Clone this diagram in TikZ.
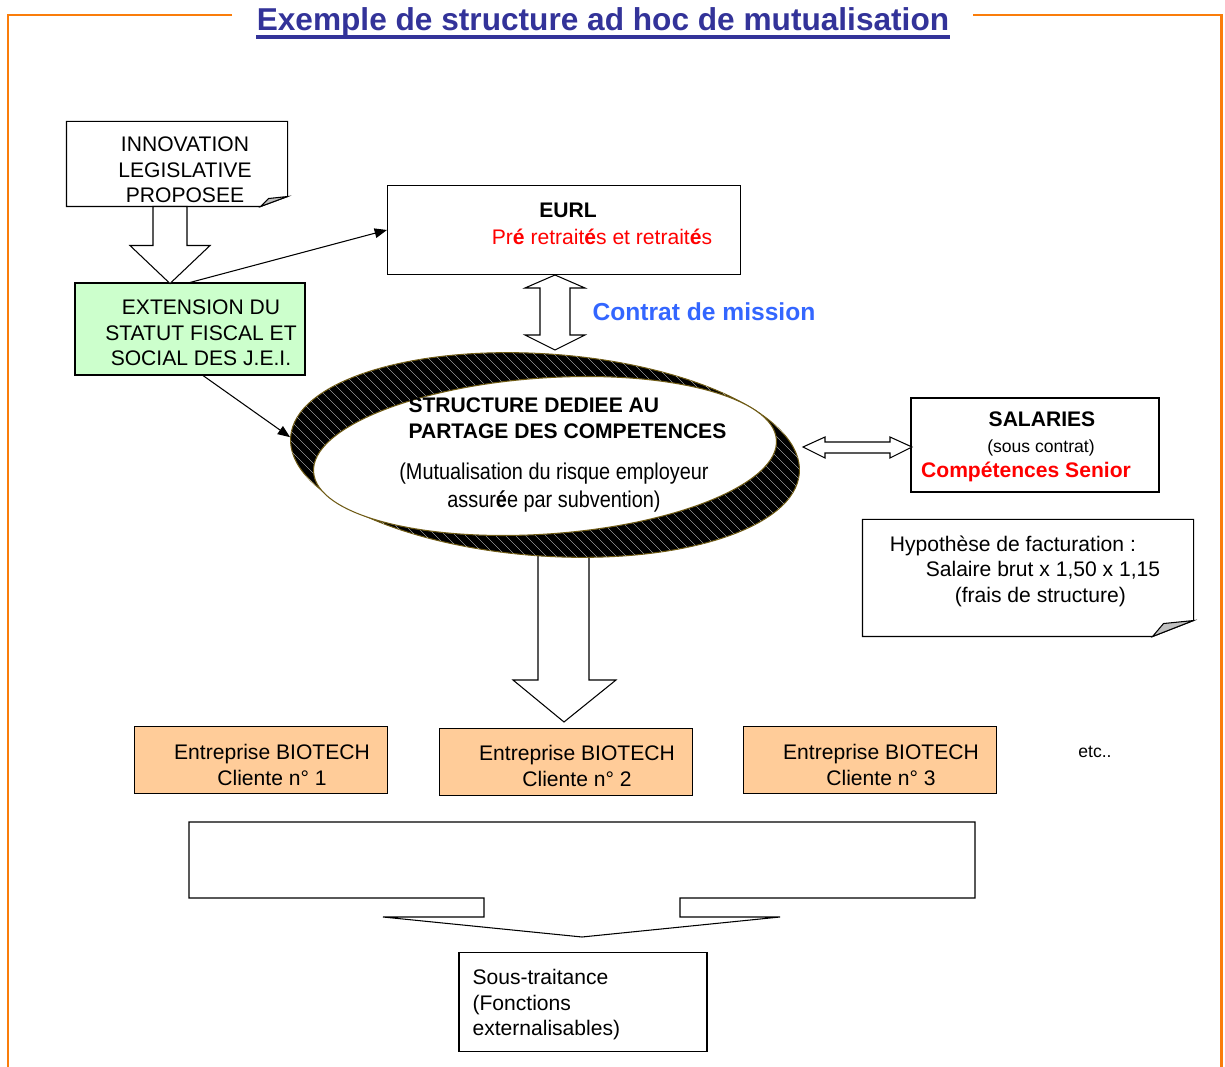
\documentclass[tikz,border=0pt]{standalone}
\usepackage{fontspec}
\setmainfont{Liberation Sans}
\newfontfamily\narrowfont[FakeStretch=0.87]{Liberation Sans}
\usetikzlibrary{shapes,arrows.meta,positioning,calc}

\definecolor{titleblue}{RGB}{51,51,153}
\definecolor{frameorange}{RGB}{250,125,10}
\definecolor{extgreen}{RGB}{204,255,204}
\definecolor{clientorange}{RGB}{255,204,153}
\definecolor{missionblue}{RGB}{51,102,255}
\definecolor{ringedge}{RGB}{110,90,20}
\definecolor{foldgrey}{RGB}{192,192,192}
\newcommand{\pxu}{0.02cm}

\begin{document}
\begin{tikzpicture}[
    x=0.02cm, y=-0.02cm,
    >={Triangle[length=7pt,width=5.5pt]},
    line width=0.6pt,
    every node/.style={font=\fontsize{12pt}{14.5pt}\selectfont, inner sep=0pt},
    plainbox/.style={rectangle, draw=black, fill=white, align=center},
    client/.style={plainbox, fill=clientorange, minimum width=253*\pxu, minimum height=67*\pxu},
    hollow/.style={draw=black, fill=white, line join=miter},
    frame/.style={draw=frameorange, line width=1.7pt, line join=miter},
    node distance=1cm
  ]
    \useasboundingbox (0,0) rectangle (1225,1067);

    % frame and title
    \draw[frame] (232,15) -- (8,15) -- (8,1067);
    \draw[frame] (973,15) -- (1221,15) -- (1221,1067);
    \node[font=\bfseries\fontsize{18pt}{21pt}\selectfont, text=titleblue, anchor=base] (title) at (603,31) {Exemple de structure ad hoc de mutualisation};
    \draw[titleblue, line width=2pt] ($(title.base west)+(0,6)$) -- ($(title.base east)+(0,6)$);

    % note: innovation
    \node[minimum width=220*\pxu, minimum height=84*\pxu] (innov) at (177,164) {};
    \draw[fill=white] (innov.north west) -- (innov.north east) -- ($(innov.south east)+(0,-10)$) -- ($(innov.south east)+(-27,0)$) -- (innov.south west) -- cycle;
    \draw[fill=foldgrey] ($(innov.south east)+(-27,0)$) -- ($(innov.south east)+(0,-10)$) -- ($(innov.south east)+(-19,-8)$) -- cycle;
    \node[align=center] (innovtxt) at (185,170) {INNOVATION\\LEGISLATIVE\\PROPOSEE};

    \node[plainbox, fill=extgreen, minimum width=230*\pxu, minimum height=92*\pxu] (ext) at (190,329) {};
    \node[align=center] (exttxt) at (201,333) {EXTENSION DU\\STATUT FISCAL ET\\SOCIAL DES J.E.I.};

    \node[plainbox, minimum width=353*\pxu, minimum height=89*\pxu] (eurl) at (564,230) {};
    \node[align=center] (eurltxt) at (568,224)
      {\textbf{EURL}\\[1pt]\hspace*{1.36cm}\textcolor{red}{Pr\textbf{é} retrait\textbf{é}s et retrait\textbf{é}s}};

    % block arrows
    \coordinate (a1) at ($(innov.south)+(-7,0)$);
    \draw[hollow] (a1) ++(-17,0) -- ++(0,39) -- ++(-23,0) -- ++(40,38) -- ++(40,-38) -- ++(-23,0) -- ++(0,-39) -- cycle;

    \coordinate (a4) at (564,722);
    \draw[hollow] (a4) -- ++(-51,-42) -- ++(25,0) -- ++(0,-150) -- ++(51,0) -- ++(0,150) -- ++(27,0) -- cycle;

    % structure ring
    \node[ellipse, minimum width=510*\pxu, minimum height=202*\pxu, rotate=-4, draw=ringedge, fill=black] (ring) at (545,455) {};
    \begin{scope}
      \clip[rotate around={-4:(545,455)}] (545,455) ellipse [x radius=255, y radius=101];
      \foreach \k in {0,...,75}
        \draw[white, line width=0.15pt] (60+10*\k,340) -- ++(235,235);
    \end{scope}
    \node[ellipse, minimum width=464*\pxu, minimum height=156*\pxu, rotate=4, draw=ringedge, fill=white] (hole) at (545,456) {};
    \node[anchor=west, align=left, font=\bfseries\fontsize{12pt}{15pt}\selectfont] (struct) at (408,418)
      {STRUCTURE DEDIEE AU\\PARTAGE DES COMPETENCES};
    \node[align=center, font=\narrowfont\fontsize{13pt}{16pt}\selectfont] (structsub) at (554,488)
      {(Mutualisation du risque employeur\\assur\textbf{é}e par subvention)};

    \coordinate (a2) at (555,275);
    \draw[hollow] (a2) -- ++(30,13) -- ++(-15,0) -- ++(0,47) -- ++(15,0) -- ++(-30,15) -- ++(-30,-15) -- ++(15,0) -- ++(0,-47) -- ++(-15,0) -- cycle;
    \node[font=\bfseries\fontsize{14pt}{16pt}\selectfont, text=missionblue] (mission) at (704,312) {Contrat de mission};

    \node[plainbox, minimum width=248*\pxu, minimum height=94*\pxu] (sal) at (1035,445) {};
    \node[align=center] (saltxt) at (1036,447)
      {\hspace*{0.24cm}\textbf{SALARIES}\\\hspace*{0.2cm}{\fontsize{10pt}{12pt}\selectfont (sous contrat)}\\\textcolor{red}{\textbf{Compétences Senior}}\hspace*{0.4cm}};

    \coordinate (a3) at (803,447);
    \draw[hollow] (a3) -- ++(22,-10) -- ++(0,5) -- ++(65,0) -- ++(0,-5) -- ++(22,10) -- ++(-22,11) -- ++(0,-5) -- ++(-65,0) -- ++(0,5) -- cycle;

    % arrows
    \draw[->] (ext.north) -- (eurl.west);
    \draw[->] ($(ext.south)+(13,0)$) -- (ring.west);

    % note: hypothese
    \node[minimum width=330*\pxu, minimum height=116*\pxu] (hypo) at (1028,578) {};
    \draw[fill=white] (hypo.north west) -- (hypo.north east) -- ($(hypo.south east)+(0,-16)$) -- ($(hypo.south east)+(-41,0)$) -- (hypo.south west) -- cycle;
    \draw[fill=foldgrey] ($(hypo.south east)+(-41,0)$) -- ($(hypo.south east)+(0,-16)$) -- ($(hypo.south east)+(-30,-13)$) -- cycle;
    \node[align=left] (hypotxt) at (1025,571)
      {Hypothèse de facturation :\\\hspace*{0.72cm}Salaire brut x 1,50 x 1,15\\\hspace*{1.3cm}(frais de structure)};

    % clients
    \node[client] (cl1) at (261,760) {};
    \node[client, right=1.02cm of cl1, yshift=-2*\pxu] (cl2) {};
    \node[client, right=1cm of cl2, yshift=2*\pxu] (cl3) {};
    \node[align=center] (cl1txt) at (272,765) {Entreprise BIOTECH\\Cliente n° 1};
    \node[align=center] (cl2txt) at (577,766) {Entreprise BIOTECH\\Cliente n° 2};
    \node[align=center] (cl3txt) at (881,765) {Entreprise BIOTECH\\Cliente n° 3};
    \node[font=\fontsize{10pt}{12pt}\selectfont] (etc) at (1095,752) {etc..};

    % callout to sous-traitance
    \draw[fill=white, line join=miter] (189,822) -- (975,822) -- (975,898) -- (680,898) -- (680,917) -- (780,917) -- (582,937)
      -- (383,917) -- (484,917) -- (484,898) -- (189,898) -- cycle;
    \node[plainbox, minimum width=248*\pxu, minimum height=99*\pxu] (sous) at (583,1002) {};
    \node[anchor=west, align=left] (soustxt) at (472,1005) {Sous-traitance\\(Fonctions\\externalisables)};
\end{tikzpicture}
\end{document}
